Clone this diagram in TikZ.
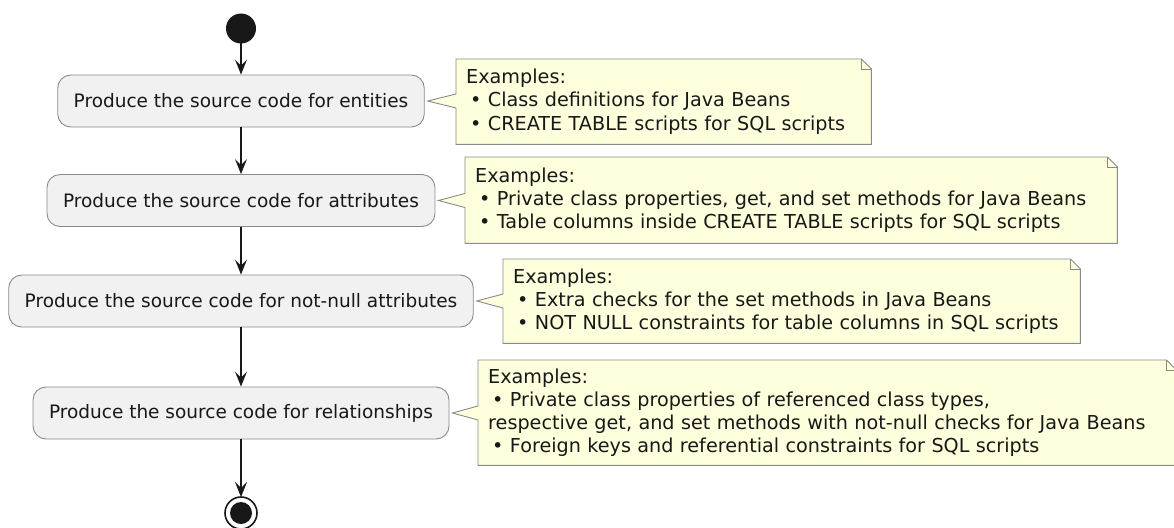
\documentclass[tikz,border=0pt]{standalone}
\usepackage{fontspec}
\setmainfont{DejaVu Sans}
\usetikzlibrary{arrows.meta,calc}

\definecolor{edgecol}{HTML}{181818}
\definecolor{boxfill}{HTML}{F1F1F1}
\definecolor{boxline}{HTML}{8A8A8A}
\definecolor{notefill}{HTML}{FEFFDD}

\tikzset{
  activity/.style={rectangle, rounded corners=13pt, draw=boxline, line width=0.9pt,
    fill=boxfill, minimum height=52pt, inner xsep=16pt, text=edgecol,
    font=\fontsize{18.5}{22}\selectfont},
  notebox/.style={rectangle, anchor=north west, inner xsep=10pt, inner ysep=0pt,
    align=left, text=edgecol, font=\fontsize{19.2}{23.2}\selectfont},
  noteline/.style={draw=boxline, line width=0.9pt, fill=notefill, line join=miter},
  flow/.style={draw=edgecol, line width=1.2pt,
    -{Stealth[length=15pt, width=12pt, inset=6pt]}},
}

% note outline with a dog-eared corner and a pointer towards an activity
\newcommand{\notewithpointer}[2]{%
  \path[noteline] (#1.north west) -- ([xshift=-10pt]#1.north east)
    -- ([yshift=-10pt]#1.north east) -- (#1.south east) -- (#1.south west)
    -- ($(#1.west |- #2.east)+(0,7)$) -- ($(#2.east)+(3,0)$)
    -- ($(#1.west |- #2.east)+(0,-7)$) -- cycle;
  \draw[draw=boxline, line width=0.9pt, line join=miter]
    ([xshift=-10pt]#1.north east) -- ([xshift=-10pt,yshift=-10pt]#1.north east)
    -- ([yshift=-10pt]#1.north east);
}
\newcommand{\bul}{\hspace{4pt}•\ }

\begin{document}
\begin{tikzpicture}[x=1pt, y=-1pt]
\useasboundingbox (0,0) rectangle (1174,527);

% start and end markers
\fill[edgecol] (241,28.5) circle (15pt);
\coordinate (start) at (241,43.5);

\node[activity] (a1) at (241,101) {Produce the source code for entities};
\node[activity] (a2) at (241,200.5) {Produce the source code for attributes};
\node[activity] (a3) at (241,301) {Produce the source code for not-null attributes};
\node[activity] (a4) at (241,413) {Produce the source code for relationships};

\draw[edgecol, line width=1.6pt, fill=white] (241,513) circle (16pt);
\fill[edgecol] (241,513) circle (11pt);
\coordinate (stop) at (241,497);

% flow
\draw[flow] (start) -- (a1.north);
\draw[flow] (a1.south) -- (a2.north);
\draw[flow] (a2.south) -- (a3.north);
\draw[flow] (a3.south) -- (a4.north);
\draw[flow] (a4.south) -- (stop);

% note frames (empty nodes give the anchors), outlines behind the text
\node[notebox, text width=395pt, minimum height=85pt] (n1) at (456,59) {};
\node[notebox, text width=632pt, minimum height=86pt] (n2) at (465,157) {};
\node[notebox, text width=557pt, minimum height=84pt] (n3) at (503,259) {};
\node[notebox, text width=678pt, minimum height=105pt] (n4) at (478,360) {};

\notewithpointer{n1}{a1}
\notewithpointer{n2}{a2}
\notewithpointer{n3}{a3}
\notewithpointer{n4}{a4}

\node[notebox, text width=395pt, minimum height=85pt] at (456,59)
  {Examples:\\\bul Class definitions for Java Beans\\\bul CREATE TABLE scripts for SQL scripts};
\node[notebox, text width=632pt, minimum height=86pt] at (465,157)
  {Examples:\\\bul Private class properties, get, and set methods for Java Beans\\\bul Table columns inside CREATE TABLE scripts for SQL scripts};
\node[notebox, text width=557pt, minimum height=84pt] at (503,259)
  {Examples:\\\bul Extra checks for the set methods in Java Beans\\\bul NOT NULL constraints for table columns in SQL scripts};
\node[notebox, text width=678pt, minimum height=105pt] at (478,360)
  {Examples:\\\bul Private class properties of referenced class types,\\respective get, and set methods with not-null checks for Java Beans\\\bul Foreign keys and referential constraints for SQL scripts};
\end{tikzpicture}
\end{document}
